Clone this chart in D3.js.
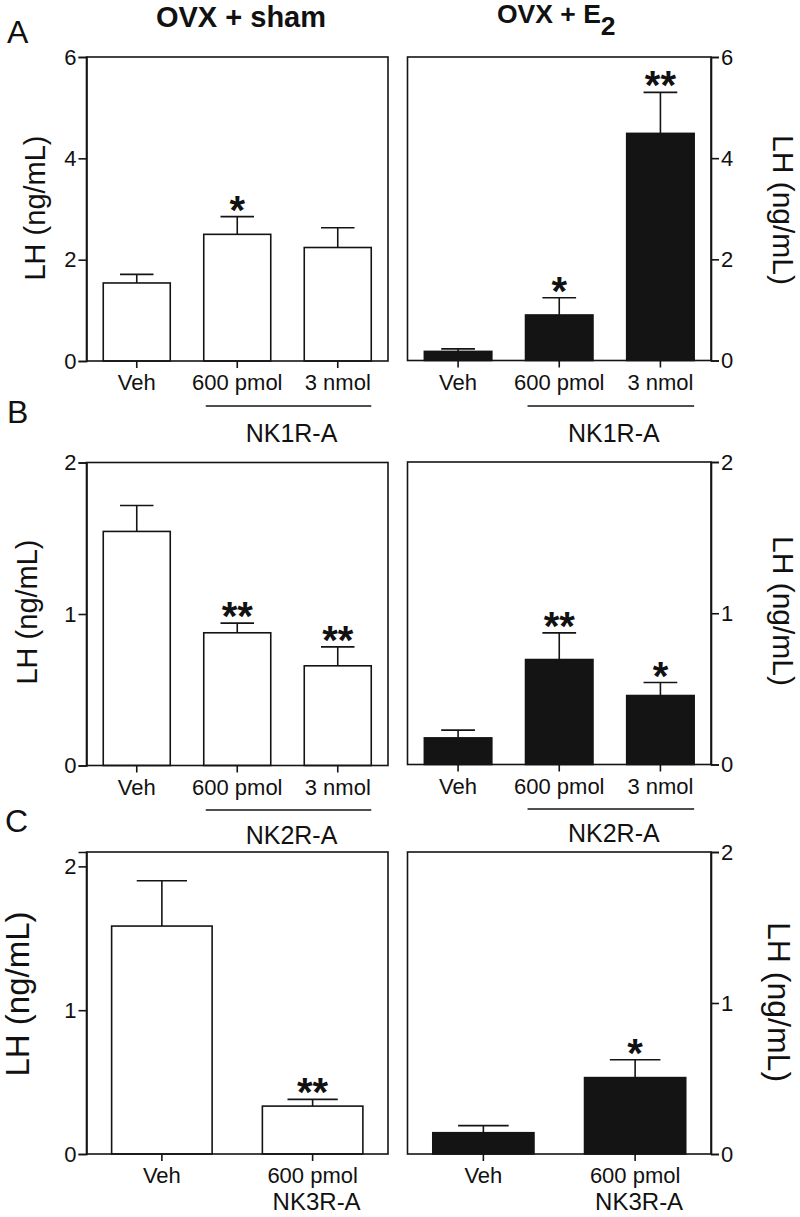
<!DOCTYPE html>
<html>
<head>
<meta charset="utf-8">
<script src="https://cdn.jsdelivr.net/npm/d3@7"></script>
<style>
  html, body { margin: 0; padding: 0; background: #fff; }
  svg { display: block; }
  text { font-family: "Liberation Sans", Arial, Helvetica, sans-serif; fill: #111; }
</style>
</head>
<body>
<svg id="chart" width="800" height="1217"></svg>
<script>
// ---------- data ----------
const catsAB = ["Veh", "600 pmol", "3 nmol"];
const catsC = ["Veh", "600 pmol"];

const shamA = [1.54, 2.50, 2.24];
const shamASem = [0.17, 0.35, 0.39];
const shamASig = ["", "*", ""];
const e2A = [0.18, 0.90, 4.49];
const e2ASem = [0.05, 0.34, 0.81];
const e2ASig = ["", "*", "**"];

const shamB = [1.545, 0.876, 0.658];
const shamBSem = [0.171, 0.064, 0.125];
const shamBSig = ["", "**", "**"];
const e2B = [0.176, 0.694, 0.456];
const e2BSem = [0.051, 0.176, 0.086];
const e2BSig = ["", "**", "*"];

const shamC = [1.585, 0.333];
const shamCSem = [0.315, 0.047];
const shamCSig = ["", "**"];
const e2C = [0.141, 0.506];
const e2CSem = [0.047, 0.118];
const e2CSig = ["", "*"];

const ticksA = [0, 2, 4, 6];
const ticksBC = [0, 1, 2];
const yLabel = "LH (ng/mL)";
const groupTitles = ["OVX + sham", "OVX + E"];
const panelLetters = ["A", "B", "C"];
const antagonists = ["NK1R-A", "NK2R-A", "NK3R-A"];

// ---------- layout ----------
const svg = d3.select("#chart");
const INK = "#141414";
const LEFT = { x0: 86.5, x1: 388 };
const RIGHT = { x0: 407.5, x1: 711 };

const panels = [
  { side: "left", box: LEFT, top: 57, bottom: 361, ymax: 6, ticks: ticksA, cats: catsAB, vals: shamA, sem: shamASem, sig: shamASig, fill: "#fff",
    lab: { fs: 29, x: 45, y: 208 }, bracket: { y: 406, text: antagonists[0], ty: 442 } },
  { side: "right", box: RIGHT, top: 57, bottom: 360.5, ymax: 6, ticks: ticksA, cats: catsAB, vals: e2A, sem: e2ASem, sig: e2ASig, fill: INK,
    lab: { fs: 30, x: 773, y: 210 }, bracket: { y: 406, text: antagonists[0], ty: 442 } },
  { side: "left", box: LEFT, top: 462.5, bottom: 765.5, ymax: 2, ticks: ticksBC, cats: catsAB, vals: shamB, sem: shamBSem, sig: shamBSig, fill: "#fff",
    lab: { fs: 29, x: 37, y: 612 }, bracket: { y: 810, text: antagonists[1], ty: 844 } },
  { side: "right", box: RIGHT, top: 462, bottom: 764.5, ymax: 2, ticks: ticksBC, cats: catsAB, vals: e2B, sem: e2BSem, sig: e2BSig, fill: INK,
    lab: { fs: 30, x: 773, y: 611 }, bracket: { y: 809, text: antagonists[1], ty: 842 } },
  { side: "left", box: LEFT, top: 852, bottom: 1154, ymax: 2.1, ticks: ticksBC, cats: catsC, vals: shamC, sem: shamCSem, sig: shamCSig, fill: "#fff",
    lab: { fs: 33, x: 29, y: 994 }, under: { text: antagonists[2], ty: 1210 } },
  { side: "right", box: RIGHT, top: 852, bottom: 1154, ymax: 2, ticks: ticksBC, cats: catsC, vals: e2C, sem: e2CSem, sig: e2CSig, fill: INK,
    lab: { fs: 32, x: 768, y: 1002 }, under: { text: antagonists[2], ty: 1210 } }
];

panels.forEach(p => {
  const g = svg.append("g");
  const x = d3.scaleBand().domain(p.cats).range([p.box.x0, p.box.x1]).paddingInner(1/3).paddingOuter(1/6);
  const y = d3.scaleLinear().domain([0, p.ymax]).range([p.bottom, p.top]);
  const bw = x.bandwidth();

  // bars
  g.selectAll("rect.bar").data(p.vals).join("rect")
    .attr("x", (d, i) => x(p.cats[i]))
    .attr("y", d => y(d))
    .attr("width", bw)
    .attr("height", d => y(0) - y(d))
    .attr("fill", p.fill)
    .attr("stroke", INK).attr("stroke-width", 1.6);

  // error bars
  p.vals.forEach((v, i) => {
    const cx = x(p.cats[i]) + bw / 2;
    const top = y(v + p.sem[i]);
    g.append("line").attr("x1", cx).attr("x2", cx).attr("y1", y(v)).attr("y2", top)
      .attr("stroke", INK).attr("stroke-width", 1.6);
    g.append("line").attr("x1", cx - bw / 4).attr("x2", cx + bw / 4).attr("y1", top).attr("y2", top)
      .attr("stroke", INK).attr("stroke-width", 1.6);
    if (p.sig[i]) {
      g.append("text").attr("x", cx).attr("y", top - 16 + 23)
        .attr("text-anchor", "middle").attr("font-size", 40).attr("font-weight", "bold")
        .text(p.sig[i]);
    }
  });

  // frame
  g.append("rect").attr("x", p.box.x0).attr("y", p.top)
    .attr("width", p.box.x1 - p.box.x0).attr("height", p.bottom - p.top)
    .attr("fill", "none").attr("stroke", INK).attr("stroke-width", 1.6);

  // y axis
  const yAxis = (p.side === "left" ? d3.axisLeft(y) : d3.axisRight(y))
    .tickValues(p.ticks).tickSize(8).tickPadding(2).tickFormat(d3.format("d"));
  const ya = g.append("g")
    .attr("transform", `translate(${p.side === "left" ? p.box.x0 : p.box.x1},0)`)
    .call(yAxis);
  ya.select(".domain").attr("stroke", INK).attr("stroke-width", 1.6);
  ya.selectAll(".tick line").attr("stroke", INK).attr("stroke-width", 1.6);
  ya.selectAll(".tick text").attr("font-size", 22).attr("fill", INK)
    .attr("font-family", "'Liberation Sans', Arial, sans-serif");

  // x axis
  const xa = g.append("g").attr("transform", `translate(0,${p.bottom})`)
    .call(d3.axisBottom(x).tickSize(7).tickPadding(6.5));
  xa.select(".domain").remove();
  xa.selectAll(".tick line").attr("stroke", INK).attr("stroke-width", 1.6);
  xa.selectAll(".tick text").attr("font-size", 22).attr("fill", INK)
    .attr("font-family", "'Liberation Sans', Arial, sans-serif");

  // y label
  g.append("text")
    .attr("transform", `translate(${p.lab.x},${p.lab.y}) rotate(${p.side === "left" ? -90 : 90})`)
    .attr("text-anchor", "middle").attr("font-size", p.lab.fs)
    .text(yLabel);

  // bracket for antagonist doses
  if (p.bracket) {
    const bx0 = x(p.cats[1]) + 2;
    const bx1 = x(p.cats[2]) + bw;
    g.append("line").attr("x1", bx0).attr("x2", bx1).attr("y1", p.bracket.y).attr("y2", p.bracket.y)
      .attr("stroke", INK).attr("stroke-width", 1.4);
    g.append("text").attr("x", (bx0 + bx1) / 2 + 3).attr("y", p.bracket.ty)
      .attr("text-anchor", "middle").attr("font-size", 25).text(p.bracket.text);
  }
  if (p.under) {
    g.append("text").attr("x", x(p.cats[1]) + bw / 2 + 4).attr("y", p.under.ty)
      .attr("text-anchor", "middle").attr("font-size", 24).text(p.under.text);
  }
});

// group titles
svg.append("text").attr("x", 241).attr("y", 27).attr("text-anchor", "middle")
  .attr("font-size", 29).attr("font-weight", "bold").text(groupTitles[0]);
const t2 = svg.append("text").attr("x", 497).attr("y", 23)
  .attr("font-size", 26.5).attr("font-weight", "bold");
t2.append("tspan").text(groupTitles[1]);
t2.append("tspan").attr("dy", 12).text("2");

// panel letters
const letterPos = [[7, 43], [7, 423], [5, 832]];
panelLetters.forEach((L, i) => {
  svg.append("text").attr("x", letterPos[i][0]).attr("y", letterPos[i][1])
    .attr("font-size", 32).text(L);
});
</script>
</body>
</html>
